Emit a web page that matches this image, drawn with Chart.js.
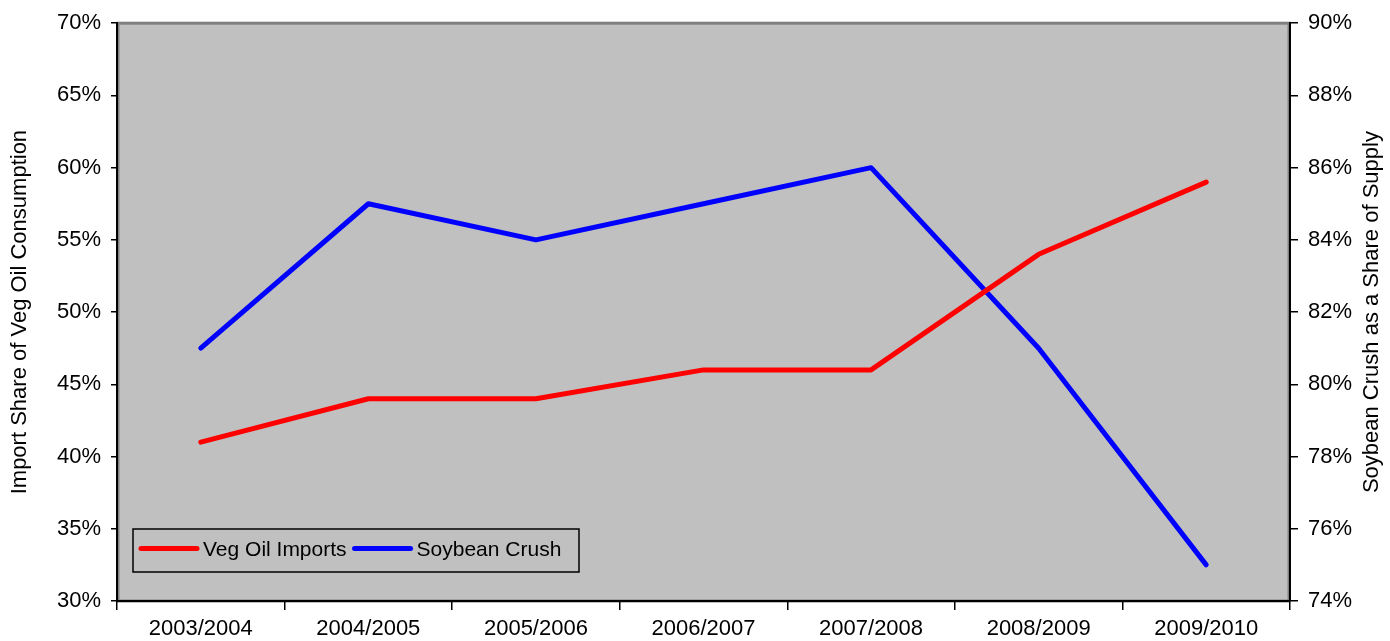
<!DOCTYPE html>
<html>
<head>
<meta charset="utf-8">
<script src="https://cdn.jsdelivr.net/npm/chart.js@4"></script>
<style>
  body { margin: 0; background: #fff; }
  canvas { display: block; }
</style>
</head>
<body>
<canvas id="myChart" width="1390" height="641"></canvas>
<script>
// data
var seasons = ['2003/2004', '2004/2005', '2005/2006', '2006/2007', '2007/2008', '2008/2009', '2009/2010'];
var vegOilImports = [41, 44, 44, 46, 46, 54, 59];   // left axis, %
var soybeanCrush = [81, 85, 84, 85, 86, 81, 75];    // right axis, %
var leftRange = [30, 70, 5];
var rightRange = [74, 90, 2];

var FONT = 'Liberation Sans, Arial, sans-serif';

// gray plot area, legend box and the right-hand title
var plotDecor = {
    id: 'plotDecor',
    beforeDraw: function(chart){
        var ctx = chart.ctx, a = chart.chartArea;
        ctx.save();
        ctx.fillStyle = '#c0c0c0';
        ctx.fillRect(a.left, a.top, a.right - a.left, a.bottom - a.top);
        ctx.strokeStyle = '#808080';
        ctx.lineWidth = 3;
        ctx.strokeRect(a.left + 1, a.top, a.right - a.left - 2, a.bottom - a.top);
        ctx.restore();
    },
    afterDatasetsDraw: function(chart){
        var ctx = chart.ctx, a = chart.chartArea;
        ctx.save();
        // legend
        var bx = a.left + 16, by = a.bottom - 72, bw = 446, bh = 43;
        ctx.strokeStyle = '#000';
        ctx.lineWidth = 1.5;
        ctx.strokeRect(bx, by, bw, bh);
        ctx.font = '21px ' + FONT;
        ctx.textBaseline = 'middle';
        ctx.lineCap = 'round';
        var x = bx + 8, cy = by + bh / 2 - 2;
        chart.data.datasets.forEach(function(ds){
            ctx.strokeStyle = ds.borderColor;
            ctx.lineWidth = 5;
            ctx.beginPath();
            ctx.moveTo(x, cy);
            ctx.lineTo(x + 56, cy);
            ctx.stroke();
            ctx.fillStyle = '#000';
            ctx.fillText(ds.label, x + 62, cy + 2);
            x += 62 + ctx.measureText(ds.label).width + 8;
        });
        // right title, reading bottom to top
        ctx.translate(1372, (a.top + a.bottom) / 2);
        ctx.rotate(-Math.PI / 2);
        ctx.font = '22px ' + FONT;
        ctx.textAlign = 'center';
        ctx.fillStyle = '#000';
        ctx.fillText('Soybean Crush as a Share of Supply', 0, 0);
        ctx.restore();
    }
};

var ctx = document.getElementById('myChart').getContext('2d');
var chart = new Chart(ctx, {
    type: 'line',
    data: {
        labels: seasons,
        datasets: [{
            label: 'Veg Oil Imports',
            data: vegOilImports,
            borderColor: '#ff0000',
            yAxisID: 'y'
        }, {
            label: 'Soybean Crush',
            data: soybeanCrush,
            borderColor: '#0000ff',
            yAxisID: 'y1'
        }]
    },
    options: {
        responsive: false,
        animation: false,
        layout: { padding: { top: 22, left: 0, right: 0, bottom: 0 } },
        elements: {
            line: { borderWidth: 5, tension: 0, fill: false, borderCapStyle: 'round', borderJoinStyle: 'round' },
            point: { radius: 0, hoverRadius: 0 }
        },
        plugins: {
            legend: { display: false },
            tooltip: { enabled: false }
        },
        scales: {
            x: {
                offset: true,
                grid: { offset: true, drawOnChartArea: false, drawTicks: true, tickLength: 9, color: '#000', lineWidth: 1.5 },
                border: { color: '#000', width: 2 },
                ticks: { color: '#000', font: { family: FONT, size: 22 }, padding: 6, maxRotation: 0, autoSkip: false },
                afterFit: function(s){ s.height = 40; }
            },
            y: {
                position: 'left',
                min: leftRange[0], max: leftRange[1],
                grid: { drawOnChartArea: false, tickLength: 6, color: '#000', lineWidth: 1.5 },
                border: { color: '#000', width: 2 },
                ticks: { stepSize: leftRange[2], color: '#000', padding: 10, font: { family: FONT, size: 22 },
                    callback: function(v){ return v + '%'; } },
                title: { display: true, text: 'Import Share of Veg Oil Consumption', color: '#000',
                    font: { family: FONT, size: 22 }, padding: { top: 7, bottom: 0 } },
                afterFit: function(s){ s.width = 117; }
            },
            y1: {
                position: 'right',
                min: rightRange[0], max: rightRange[1],
                grid: { drawOnChartArea: false, tickLength: 8, color: '#000', lineWidth: 1.5 },
                border: { color: '#000', width: 2 },
                ticks: { stepSize: rightRange[2], color: '#000', padding: 10, font: { family: FONT, size: 22 },
                    callback: function(v){ return v + '%'; } },
                afterFit: function(s){ s.width = 100; }
            }
        }
    },
    plugins: [plotDecor]
});
</script>
</body>
</html>
